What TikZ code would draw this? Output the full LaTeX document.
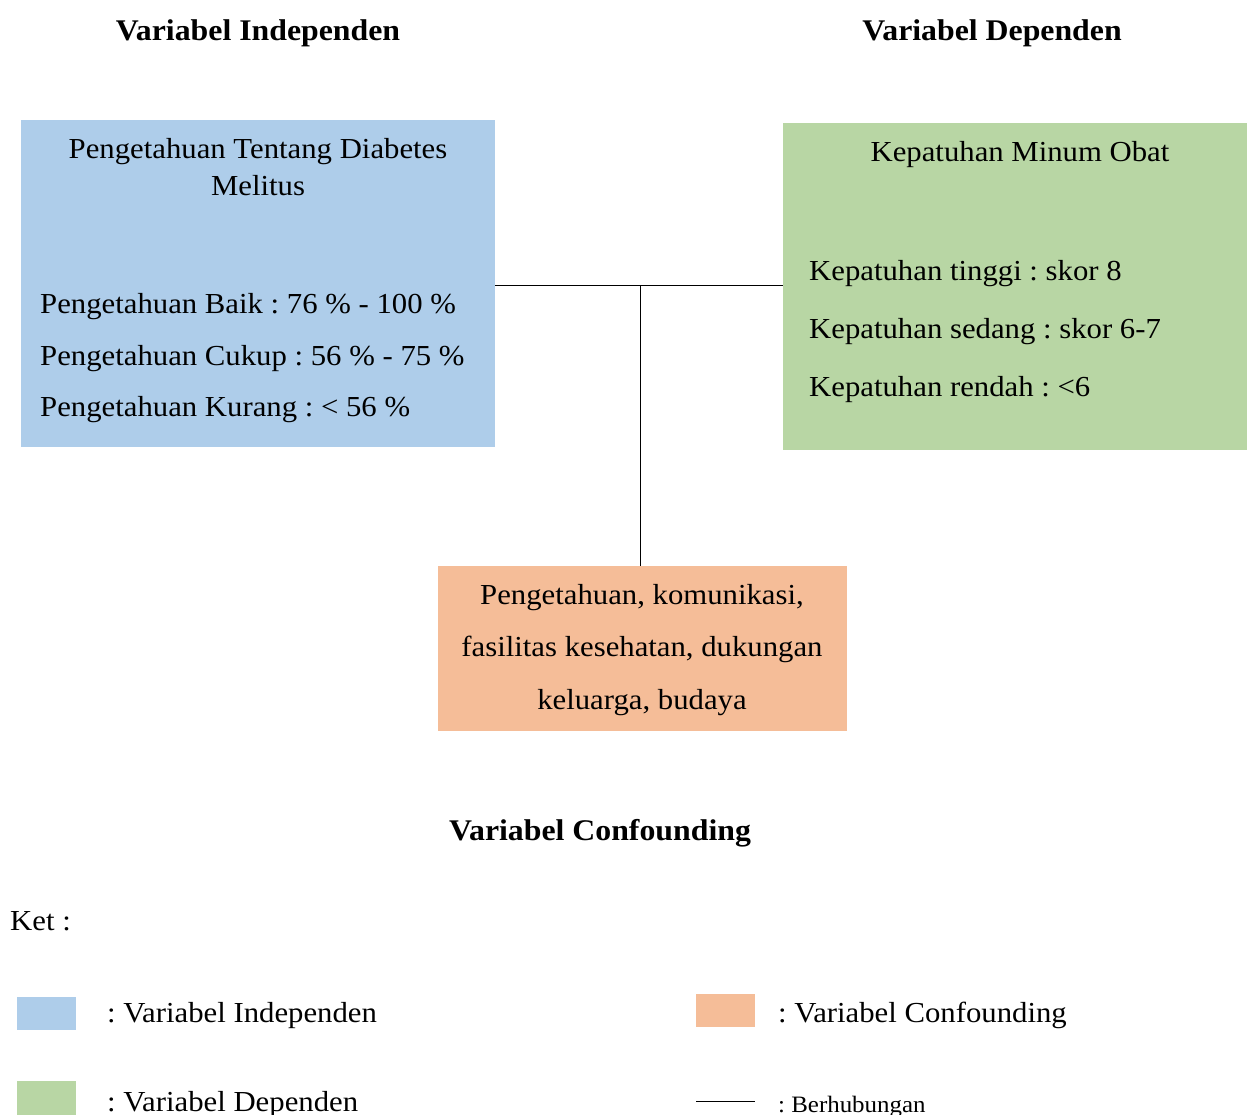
\documentclass[tikz,border=0pt]{standalone}
\usepackage{fontspec}
\setmainfont{Liberation Serif}[FakeStretch=1.06]
\frenchspacing
\begin{document}
\begin{tikzpicture}[x=1pt,y=-1pt,
  txt/.style={inner sep=0pt,font=\fontsize{29}{34}\selectfont},
  ttl/.style={inner sep=0pt,font=\fontsize{30}{34}\selectfont\bfseries},
  link/.style={draw=black,line width=1pt}]
\definecolor{cblue}{RGB}{174,205,234}
\definecolor{cgreen}{RGB}{184,214,164}
\definecolor{corange}{RGB}{245,189,152}
\useasboundingbox (0,0) rectangle (1247,1115);
% titles
\node[ttl,anchor=base] (tind) at (258,41) {Variabel Independen};
\node[ttl,anchor=base] (tdep) at (992,41) {Variabel Dependen};
% boxes
\path[fill=cblue] (21,120) rectangle (495,447);
\coordinate (bR) at (495,286);
\path[fill=cgreen] (783,123) rectangle (1247,450);
\coordinate (gL) at (783,286);
\path[fill=corange] (438,566) rectangle (847,731);
\coordinate (oT) at (640,566);
\coordinate (J) at (640,286);
% blue text
\node[txt,anchor=base] (b1) at (258,159) {Pengetahuan Tentang Diabetes};
\node[txt,anchor=base] (b2) at (258,196) {Melitus};
\node[txt,anchor=base west] (b3) at (40,313) {Pengetahuan Baik : 76 \% - 100 \%};
\node[txt,anchor=base west] (b4) at (40,365) {Pengetahuan Cukup : 56 \% - 75 \%};
\node[txt,anchor=base west] (b5) at (40,416) {Pengetahuan Kurang : < 56 \%};
% green text
\node[txt,anchor=base] (g1) at (1020,162) {Kepatuhan Minum Obat};
\node[txt,anchor=base west] (g2) at (809,280) {Kepatuhan tinggi : skor 8};
\node[txt,anchor=base west] (g3) at (809,338) {Kepatuhan sedang : skor 6-7};
\node[txt,anchor=base west] (g4) at (809,396) {Kepatuhan rendah : <6};
% orange text
\node[txt,anchor=base] (o1) at (642,604) {Pengetahuan, komunikasi,};
\node[txt,anchor=base] (o2) at (642,656) {fasilitas kesehatan, dukungan};
\node[txt,anchor=base] (o3) at (642,709) {keluarga, budaya};
\node[ttl,anchor=base] (tcon) at (600,840) {Variabel Confounding};
% connectors
\draw[link] (bR) -- (gL);
\draw[link] (J) -- (oT);
% legend
\node[txt,anchor=base west] (ket) at (10,930) {Ket :};
\path[fill=cblue] (17,997) rectangle (76,1030);
\node[txt,anchor=base west] (l1) at (107,1022) {: Variabel Independen};
\path[fill=corange] (696,994) rectangle (755,1027);
\node[txt,anchor=base west] (l2) at (778,1022) {: Variabel Confounding};
\path[fill=cgreen] (17,1081) rectangle (76,1115);
\node[txt,anchor=base west] (l3) at (107,1111) {: Variabel Dependen};
\coordinate (la) at (696,1101);
\coordinate (lb) at (755,1101);
\draw[link] (la) -- (lb);
\node[inner sep=0pt,font=\fontsize{23.5}{26}\selectfont,anchor=base west] (l4) at (778,1112) {: Berhubungan};
\end{tikzpicture}
\end{document}
